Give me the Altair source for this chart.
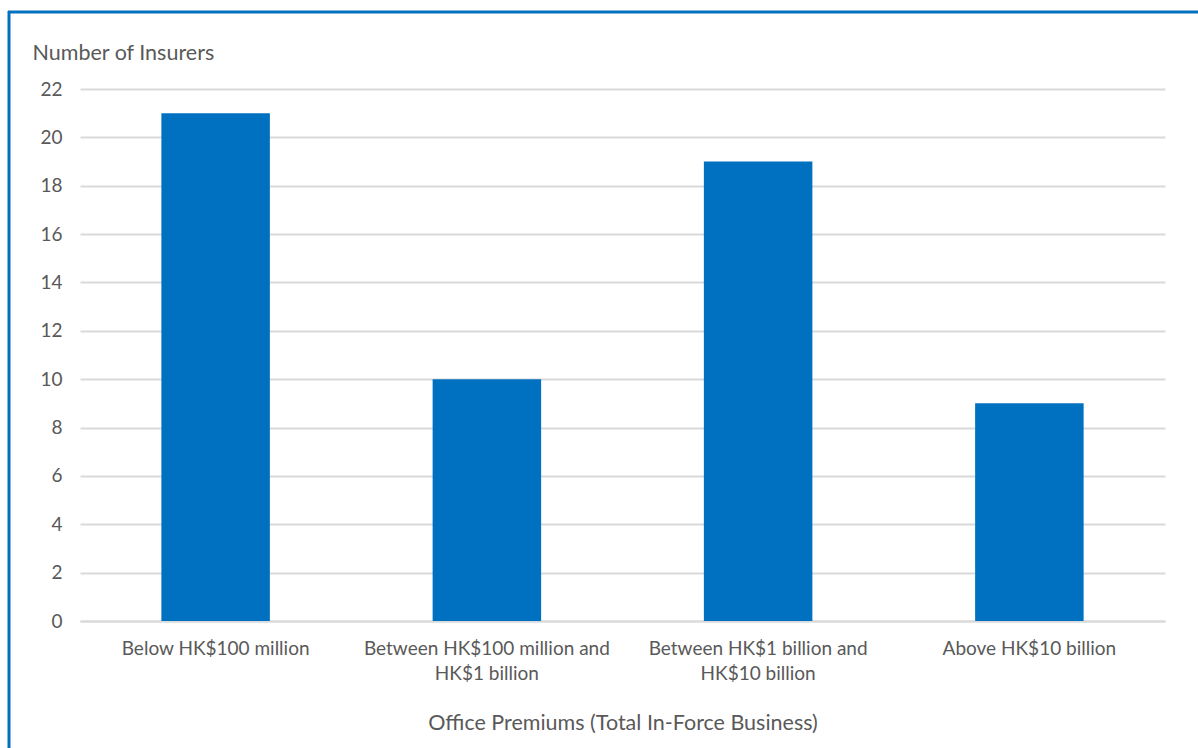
import altair as alt
import pandas as pd

categories = [
    "Below HK$100 million",
    "Between HK$100 million and HK$1 billion",
    "Between HK$1 billion and HK$10 billion",
    "Above HK$10 billion",
]
insurers = [21, 10, 19, 9]
y_ticks = [0, 2, 4, 6, 8, 10, 12, 14, 16, 18, 20, 22]

df = pd.DataFrame({"category": categories, "insurers": insurers})

FONT = "Lato"
GREY = "#595959"
BLUE = "#0070C0"

label_expr = (
    "indexof(datum.label, ' and ') > 0 ? "
    "[substring(datum.label, 0, indexof(datum.label, ' and ') + 4), "
    "substring(datum.label, indexof(datum.label, ' and ') + 5)] : datum.label"
)

bars = alt.Chart(df).mark_bar(color=BLUE).encode(
    x=alt.X(
        "category:N",
        sort=categories,
        scale=alt.Scale(paddingInner=0.6, paddingOuter=0.3),
        axis=alt.Axis(
            title="Office Premiums (Total In-Force Business)",
            labelAngle=0,
            labelExpr=label_expr,
            labelLimit=0,
            labelFont=FONT,
            labelFontSize=19,
            labelColor=GREY,
            labelPadding=27,
            labelLineHeight=25,
            labelBaseline="middle",
            ticks=False,
            domain=True,
            domainColor="#d9d9d9",
            domainWidth=2,
            titleFont=FONT,
            titleFontSize=21.5,
            titleFontWeight="normal",
            titleColor=GREY,
            titlePadding=40,
            titleBaseline="middle",
            grid=False,
        ),
    ),
    y=alt.Y(
        "insurers:Q",
        scale=alt.Scale(domain=[0, 22], nice=False),
        axis=alt.Axis(
            title="Number of Insurers",
            values=y_ticks,
            titleAngle=0,
            titleAlign="left",
            titleBaseline="middle",
            titleX=-48,
            titleY=-36,
            titleFont=FONT,
            titleFontSize=21.5,
            titleFontWeight="normal",
            titleColor=GREY,
            labelFont=FONT,
            labelFontSize=19,
            labelColor=GREY,
            labelPadding=18,
            ticks=False,
            domain=False,
            gridColor="#d9d9d9",
            gridWidth=2,
        ),
    ),
)

frame_df = pd.DataFrame({"k": [0]})
top_line = alt.Chart(frame_df).mark_rule(color=BLUE, strokeWidth=3, clip=False).encode(
    x=alt.value(-72), x2=alt.value(1118), y=alt.value(-77)
)
left_line = alt.Chart(frame_df).mark_rule(color=BLUE, strokeWidth=3, clip=False).encode(
    x=alt.value(-71), y=alt.value(-78), y2=alt.value(660)
)

chart = (
    alt.layer(bars, top_line, left_line)
    .properties(
        width=1085,
        height=532,
        autosize=alt.AutoSizeParams(type="none"),
        padding={"left": 80, "top": 89, "right": 33, "bottom": 127},
        background="white",
    )
    .configure_view(stroke=None)
)

chart.save("out.html", embed_options={"renderer": "svg", "actions": False})
